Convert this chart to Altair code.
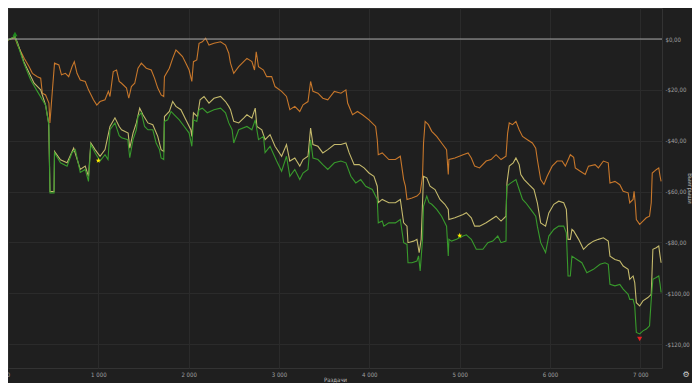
import altair as alt
import pandas as pd

# (hands, winnings $)
green_points = [
    (0, -0.4), (77, 1), (106, -2), (175, -9.5), (250, -16), (325, -20.6), (416, -26), (453, -34),
    (465, -60.5), (510, -60.5), (515, -44.7), (581, -48.7), (654, -50), (709, -44.7), (745, -43.5),
    (800, -52.5), (855, -51.3), (891, -56), (917, -41.5), (964, -44.7), (1019, -48), (1074, -45.5),
    (1107, -47.4), (1129, -35.7), (1184, -33), (1231, -38), (1257, -38.8), (1326, -39.6), (1348, -46.7),
    (1384, -39.6), (1421, -35.7), (1439, -30.5), (1476, -29), (1512, -34.4), (1549, -35.7), (1603, -35.7),
    (1640, -40.9), (1677, -43.5), (1695, -46.8), (1724, -47.4), (1732, -32.4), (1768, -31.8), (1805, -28.5),
    (1841, -29.8), (1896, -31.8), (1951, -34.4), (2005, -37), (2035, -42.2), (2053, -31.8), (2090, -32.4),
    (2115, -27.8), (2151, -27.2), (2206, -29), (2280, -27.8), (2353, -27.2), (2408, -29), (2444, -33),
    (2481, -35.7), (2499, -40.9), (2554, -35.7), (2645, -34.4), (2700, -35.7), (2737, -31.8), (2773, -39.6),
    (2828, -38.3), (2846, -44.7), (2901, -42.2), (2974, -48), (3029, -52), (3083, -46.1), (3120, -54),
    (3175, -51.3), (3230, -55.3), (3266, -52.7), (3321, -51.3), (3350, -39.6), (3376, -46.8), (3431, -47.4),
    (3485, -49.4), (3540, -51.3), (3613, -48.7), (3686, -48), (3741, -48.7), (3796, -54), (3850, -56.6),
    (3905, -55.3), (3960, -57.9), (4033, -59.2), (4088, -63.1), (4099, -72.3), (4143, -71.6), (4161, -73.6),
    (4216, -72.3), (4289, -72.3), (4343, -71), (4380, -80.1), (4417, -80.8), (4428, -88), (4472, -88),
    (4527, -87.3), (4545, -85.3), (4563, -91.2), (4589, -78.8), (4600, -65.7), (4636, -61.8), (4661, -64.4),
    (4691, -65), (4746, -67), (4800, -69.7), (4855, -73.6), (4874, -85.3), (4881, -78.8), (4910, -79.5),
    (4965, -78.8), (5038, -77.5), (5074, -77), (5129, -78.8), (5184, -82.7), (5257, -82.7), (5312, -80.1),
    (5367, -79.5), (5422, -77.5), (5458, -80.1), (5513, -79.5), (5520, -57.9), (5568, -56.6), (5623, -55.3),
    (5659, -59.2), (5696, -63.1), (5732, -64.4), (5787, -67), (5842, -69.7), (5860, -73.6), (5897, -80.1),
    (5933, -82.7), (5951, -84), (5987, -77.5), (6042, -74.9), (6097, -73.6), (6152, -73.6), (6181, -76.2),
    (6200, -93.2), (6225, -93.2), (6243, -85.4), (6298, -86.7), (6353, -88), (6408, -91.9), (6481, -90.6),
    (6554, -88.6), (6609, -88), (6645, -88.6), (6664, -96.5), (6719, -97.1), (6773, -96.5), (6810, -98.4),
    (6865, -100.4), (6883, -102.4), (6920, -102.4), (6938, -105), (6956, -115.4), (6993, -116),
    (7029, -114.8), (7066, -114.1), (7102, -112.8), (7121, -102.4), (7139, -94.5), (7176, -93.8),
    (7204, -93.2), (7219, -96.5), (7230, -99.7),
]

yellow_points = [
    (0, -0.4), (77, 1), (106, -1.5), (175, -8.9), (289, -17.4), (362, -20), (416, -26), (450, -33),
    (465, -60), (510, -60), (515, -44.2), (581, -47.5), (654, -48.7), (727, -42.9), (800, -51.3),
    (855, -50), (891, -54), (917, -40.9), (964, -43.5), (1019, -46.1), (1074, -43.5), (1129, -34.4),
    (1184, -31), (1231, -34.4), (1257, -35.7), (1330, -37), (1348, -42.9), (1384, -37), (1421, -33),
    (1458, -27.2), (1494, -29.8), (1549, -33), (1603, -33.7), (1658, -38.3), (1695, -43.5), (1724, -44.2),
    (1732, -30.5), (1786, -28.5), (1823, -24.6), (1859, -26.5), (1914, -27.8), (1969, -31.8), (2024, -35.7),
    (2035, -38.3), (2053, -29), (2097, -30.5), (2126, -23.9), (2170, -22.6), (2225, -25.2), (2280, -23.3),
    (2353, -22.6), (2408, -24.6), (2444, -26.5), (2463, -27.8), (2499, -32.4), (2554, -33), (2609, -31.1),
    (2645, -29.8), (2700, -31.1), (2737, -27.2), (2755, -34.4), (2810, -35.7), (2846, -39.6), (2901, -37.6),
    (2956, -42.2), (3029, -46.1), (3083, -41.5), (3120, -48), (3175, -46.8), (3230, -50), (3266, -47.4),
    (3321, -46.1), (3350, -35), (3376, -41.5), (3431, -42.2), (3485, -44.8), (3540, -43.5), (3613, -41.5),
    (3686, -41.5), (3741, -40.9), (3777, -44.8), (3832, -49.4), (3887, -49.4), (3942, -50.7), (3996, -52.7),
    (4051, -54), (4088, -57.9), (4099, -64.4), (4143, -63.1), (4216, -64.4), (4289, -64.4), (4343, -63.1),
    (4380, -72.3), (4417, -73.6), (4428, -80.1), (4490, -79.5), (4527, -78.8), (4552, -84), (4574, -78.8),
    (4600, -54), (4636, -54.6), (4672, -57.9), (4727, -59.2), (4782, -63.1), (4836, -65), (4874, -67),
    (4881, -71), (4947, -70.3), (5038, -69), (5074, -68.3), (5129, -70.3), (5166, -73.6), (5220, -73.6),
    (5293, -72.3), (5348, -71), (5403, -69.7), (5458, -71.6), (5513, -69.7), (5524, -56.6), (5549, -50),
    (5593, -48.7), (5623, -46.8), (5659, -49.4), (5677, -53.3), (5714, -55.3), (5768, -57.3), (5823, -59.2),
    (5860, -64.4), (5897, -72.3), (5951, -73.6), (5987, -68.4), (6042, -65), (6097, -63.8), (6152, -64.4),
    (6181, -67), (6200, -78.8), (6225, -78.8), (6243, -74.9), (6262, -75.5), (6317, -78.8), (6371, -82.7),
    (6426, -80.8), (6481, -79.5), (6536, -78.8), (6591, -78.2), (6645, -79.5), (6664, -85.4), (6719, -86.7),
    (6773, -87.3), (6810, -89.3), (6865, -90.6), (6883, -94.5), (6920, -93.2), (6938, -95.8), (6956, -103.7),
    (6993, -105), (7029, -103), (7084, -101.7), (7121, -100.4), (7139, -82.7), (7176, -82.1), (7204, -81.4),
    (7219, -85.4), (7230, -88),
]

orange_points = [
    (0, -0.4), (77, 0.5), (106, -2.4), (179, -7.6), (234, -10.9), (270, -13.5), (325, -14.8), (362, -15.4),
    (380, -21.3), (416, -22), (453, -25.2), (464, -33), (489, -21.3), (515, -9.5), (563, -10.2), (592, -14.1),
    (636, -13.5), (672, -14.8), (709, -10.9), (734, -8.9), (764, -13.5), (800, -16.1), (855, -16.7),
    (891, -20), (946, -23.9), (983, -26), (1019, -24.6), (1074, -23.9), (1111, -20.6), (1129, -22.6),
    (1165, -12.8), (1202, -12.2), (1231, -16.7), (1257, -17.4), (1312, -19.3), (1337, -23.3), (1366, -18.7),
    (1403, -17.4), (1439, -11.5), (1476, -9.5), (1531, -11.5), (1586, -12.2), (1622, -15.4), (1658, -19.3),
    (1695, -22), (1724, -22.6), (1732, -14.8), (1786, -11.5), (1823, -7.6), (1859, -4.3), (1896, -5.6),
    (1932, -6.9), (1969, -9.5), (2005, -12.2), (2035, -16.7), (2053, -8.9), (2090, -8.2), (2115, -1.7),
    (2151, -1.1), (2188, 0.3), (2225, -2.4), (2280, -1.7), (2353, -1.1), (2408, -2.4), (2444, -5.6),
    (2463, -9.5), (2499, -13.5), (2554, -10.9), (2609, -8.9), (2645, -7.6), (2700, -8.9), (2729, -12.2),
    (2748, -5), (2773, -10.9), (2828, -12.2), (2864, -14.8), (2919, -14.8), (2956, -18.7), (3029, -20.6),
    (3083, -22.6), (3120, -27.8), (3175, -26.5), (3230, -28.5), (3266, -25.9), (3321, -24.6), (3350, -16.7),
    (3376, -20.6), (3431, -21.3), (3485, -23.3), (3540, -23.9), (3613, -20.6), (3686, -21.3), (3741, -20),
    (3760, -25.2), (3814, -29.8), (3869, -28.5), (3924, -29.8), (3996, -31.8), (4070, -34.4), (4088, -39.6),
    (4099, -45.5), (4143, -44.8), (4216, -47.4), (4289, -47.4), (4343, -46.1), (4380, -55.3), (4399, -57.9),
    (4417, -63.1), (4472, -62.5), (4527, -61.8), (4563, -60.5), (4589, -54), (4600, -40.9), (4618, -32.4),
    (4654, -33.7), (4691, -36.3), (4746, -38.3), (4800, -40.9), (4855, -43.5), (4874, -53.3), (4881, -47.4),
    (4947, -46.8), (5038, -45.5), (5093, -44.8), (5129, -46.8), (5166, -50), (5220, -50.7), (5293, -48),
    (5348, -47.4), (5403, -45.5), (5458, -47.4), (5513, -46.1), (5531, -37), (5549, -33), (5586, -33.7),
    (5623, -32.4), (5659, -35.7), (5696, -38.3), (5750, -39.6), (5805, -40.9), (5842, -42.9), (5860, -47.4),
    (5897, -55.3), (5933, -57.2), (5969, -54), (6024, -50), (6079, -48), (6134, -48), (6170, -50),
    (6225, -45.5), (6262, -46.5), (6280, -50.7), (6335, -52), (6390, -53.3), (6426, -50), (6499, -49.4),
    (6536, -50.7), (6591, -48), (6645, -48.7), (6664, -56.6), (6719, -56), (6773, -57.3), (6810, -59.9),
    (6865, -60.5), (6883, -64.4), (6920, -63.1), (6931, -59.9), (6945, -65), (6956, -71), (6993, -72.9),
    (7029, -71.6), (7066, -70.3), (7102, -69.7), (7121, -64.4), (7132, -52.7), (7176, -51.4), (7204, -50.7),
    (7219, -54), (7230, -56),
]

series_names = ["Без вскрытия", "All-in EV", "Выигрыш"]
series_colors = ["#c7772b", "#c4b96c", "#389a2c"]

star_points = [(1000, -47.8), (5000, -77.3)]
max_point = [(77, 2.0)]
min_point = [(6993, -118.0)]

x_ticks = [0, 1000, 2000, 3000, 4000, 5000, 6000, 7000]
y_ticks = [0, -20, -40, -60, -80, -100, -120]

rows = []
for name, pts in zip(series_names, [orange_points, yellow_points, green_points]):
    for i, (h, w) in enumerate(pts):
        rows.append({"series": name, "hands": h, "won": w, "idx": i})
df = pd.DataFrame(rows)


def pts_df(pts):
    return pd.DataFrame({"hands": [p[0] for p in pts], "won": [p[1] for p in pts]})


FONT = "Liberation Sans Narrow, DejaVu Sans Condensed, Open Sans, sans-serif"
STAR = ("M0,-1L0.235,-0.324L0.951,-0.309L0.38,0.124L0.588,0.809L0,0.4"
        "L-0.588,0.809L-0.38,0.124L-0.951,-0.309L-0.235,-0.324Z")

W, H = 654, 360

x_enc = alt.X(
    "hands:Q",
    scale=alt.Scale(domain=[0, 7240], nice=False, zero=False),
    axis=alt.Axis(
        values=x_ticks,
        labelExpr="datum.value == 0 ? '0' : floor(datum.value / 1000) + ' 000'",
        title="Раздачи",
        ticks=False,
        domain=False,
        labelPadding=3,
        labelFlush=False,
        titleX=W / 2,
        titleY=11,
        titleBaseline="middle",
    ),
)
y_enc = alt.Y(
    "won:Q",
    scale=alt.Scale(domain=[-129.4, 12.2], nice=False, zero=False),
    axis=alt.Axis(
        orient="right",
        values=y_ticks,
        labelExpr="datum.value == 0 ? '$0,00' : '-$' + abs(datum.value) + ',00'",
        title="Выигрыши",
        ticks=False,
        domain=False,
        labelPadding=3,
        titleX=27,
        titleY=H / 2,
        titleAngle=90,
        titleAlign="center",
        titleBaseline="middle",
    ),
)

lines = alt.Chart(df).mark_line(strokeWidth=1.1).encode(
    x=x_enc,
    y=y_enc,
    color=alt.Color("series:N", scale=alt.Scale(domain=series_names, range=series_colors), legend=None),
    order="idx:Q",
)

zero_line = alt.Chart(pd.DataFrame({"won": [0]})).mark_rule(color="#a8a8a8", strokeWidth=1).encode(
    y=alt.Y("won:Q")
)

stars = alt.Chart(pts_df(star_points)).mark_point(
    shape=STAR, filled=True, color="#ffee00", size=30, opacity=1
).encode(x="hands:Q", y="won:Q")

up = alt.Chart(pts_df(max_point)).mark_point(
    shape="triangle-up", filled=True, color="#1e8a1e", size=26, opacity=1
).encode(x="hands:Q", y="won:Q")

down = alt.Chart(pts_df(min_point)).mark_point(
    shape="triangle-down", filled=True, color="#e52222", size=26, opacity=1
).encode(x="hands:Q", y="won:Q")

gear = alt.Chart(pd.DataFrame({"t": ["⚙"]})).mark_text(
    color="#d0d0d0", fontSize=8, font="DejaVu Sans"
).encode(text="t:N", x=alt.value(678), y=alt.value(367))

chart = alt.layer(lines, zero_line, stars, up, down, gear).properties(
    width=W,
    height=H,
    autosize=alt.AutoSizeParams(type="none"),
    padding={"left": 0, "top": 0, "right": 684 - W, "bottom": 15},
    background="#1f1f1f",
).configure_view(stroke="#333333").configure_axis(
    gridColor="#2b2b2b",
    gridWidth=1,
    labelColor="#a0a0a0",
    titleColor="#bdbdbd",
    labelFont=FONT,
    titleFont=FONT,
    labelFontSize=6,
    titleFontSize=6,
    titleFontWeight="normal",
)

chart.save("out.html", embed_options={"renderer": "svg", "actions": False})
